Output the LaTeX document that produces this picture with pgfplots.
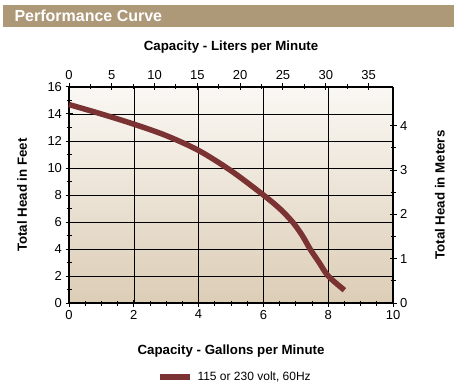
\documentclass[border=0pt]{standalone}
\usepackage{fontspec}
\setmainfont{Liberation Sans}
\usepackage{pgfplots}
\pgfplotsset{compat=1.18}
\definecolor{barc}{HTML}{AD9878}
\definecolor{curvec}{HTML}{7B3232}
\definecolor{bgtop}{HTML}{FAF8F4}
\definecolor{bgbot}{HTML}{DCCDB6}
\begin{document}
\begin{tikzpicture}[x=1pt,y=1pt]
\useasboundingbox (-69,-85) rectangle (385,303);
\fill[barc] (-66,276) rectangle (385,298);
\node[anchor=west,text=white,font=\fontsize{16}{18}\selectfont\bfseries] at (-58,287) {Performance Curve};
\begin{axis}[
  at={(0,0)}, anchor=origin,
  scale only axis, width=324pt, height=216pt,
  xmin=0, xmax=10, ymin=0, ymax=16,
  xtick={0,2,...,10}, ytick={0,2,...,16},
  minor x tick num=3, minor y tick num=1,
  axis x line*=bottom, axis y line*=left,
  axis line style={line width=1.3pt, -},
  tick style={black, line width=1pt},
  major tick length=7pt, minor tick length=5pt,
  tick align=center,
  grid=major, grid style={black, line width=0.6pt},
  axis background/.style={top color=bgtop, bottom color=bgbot},
  ticklabel style={font=\fontsize{13}{15}\selectfont},
  /pgf/number format/assume math mode=true,
  xlabel={\bfseries Capacity - Gallons per Minute},
  ylabel={\bfseries Total Head in Feet},
  label style={font=\fontsize{13.3}{15}\selectfont},
  xlabel style={at={(axis description cs:0.5,-0.222)}, anchor=center},
  ylabel style={at={(axis description cs:-0.145,0.5)}, anchor=center},
  clip=false,
]
\addplot[curvec, line width=5.5pt, smooth, tension=0.5] coordinates {
(0,14.7) (1,14.0) (2,13.25) (3,12.4) (4,11.3) (5,9.8) (6,8.0) (6.5,7.0) (6.9,6.0) (7.2,5.0) (7.44,4.0) (7.72,3.0) (8.0,2.0) (8.5,0.95)};
\end{axis}
\begin{axis}[
  at={(0,0)}, anchor=origin,
  scale only axis, width=324pt, height=216pt,
  xmin=0, xmax=37.854, ymin=0, ymax=4.8768,
  xtick={0,5,...,35}, ytick={0,1,...,4},
  minor x tick num=1, minor y tick num=1,
  axis x line*=top, axis y line*=right,
  axis line style={line width=1.3pt, -},
  tick style={black, line width=1pt},
  major tick length=7pt, minor tick length=5pt,
  tick align=center,
  ticklabel style={font=\fontsize{13}{15}\selectfont},
  /pgf/number format/assume math mode=true,
  xlabel={\bfseries Capacity - Liters per Minute},
  ylabel={\bfseries Total Head in Meters},
  label style={font=\fontsize{13.3}{15}\selectfont},
  xlabel style={at={(axis description cs:0.5,1.185)}, anchor=center},
  ylabel style={at={(axis description cs:1.145,0.5)}, anchor=center},
]
\addplot[draw=none] coordinates {(0,0)};
\end{axis}
\draw[curvec, line width=6pt] (91,-74) -- (121,-74);
\node[anchor=west, font=\fontsize{12}{14}\selectfont] at (125,-74) {115 or 230 volt, 60Hz};
\end{tikzpicture}
\end{document}
